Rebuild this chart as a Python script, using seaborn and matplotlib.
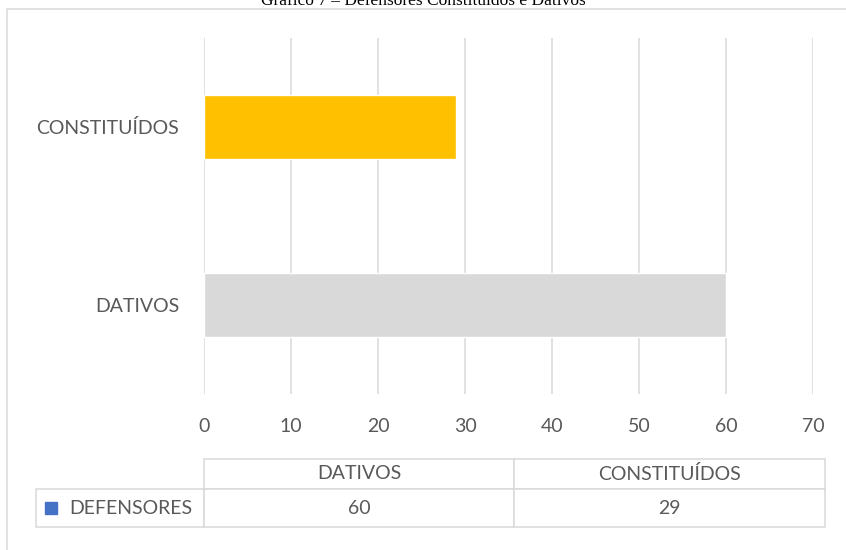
import matplotlib
matplotlib.use("Agg")
import matplotlib.pyplot as plt
import matplotlib.patches as mpatches
import seaborn as sns
import pandas as pd

# ── Datos ─────────────────────────────────────────────────────────────────────
categorias = ["DATIVOS", "CONSTITUÍDOS"]
valores = [60, 29]
serie = "DEFENSORES"
colores = {"DATIVOS": "#D9D9D9", "CONSTITUÍDOS": "#FFC000"}
ticks_x = [0, 10, 20, 30, 40, 50, 60, 70]
titulo = "Gráfico 7 – Defensores Constituídos e Dativos"

df = pd.DataFrame({"categoria": categorias, "valor": valores})

# ── Estilo ────────────────────────────────────────────────────────────────────
sns.set_theme(style="white")
plt.rcParams["font.family"] = ["Lato", "DejaVu Sans"]
texto = "#595959"
gris = "#D9D9D9"

W, H = 846, 550
fig = plt.figure(figsize=(W / 100, H / 100), dpi=100)

# ── Barras ────────────────────────────────────────────────────────────────────
ax = fig.add_axes([204 / W, 1 - 394 / H, (813 - 204) / W, (394 - 38) / H])
sns.barplot(data=df, x="valor", y="categoria", hue="categoria",
            order=categorias[::-1], palette=colores, legend=False,
            width=0.357, saturation=1, orient="h", ax=ax)
ax.set_xlim(0, 70)
ax.set_xticks(ticks_x)
ax.xaxis.grid(True, color=gris, linewidth=1.1)
ax.set_axisbelow(True)
for s in ax.spines.values():
    s.set_visible(False)
ax.set_xlabel("")
ax.set_ylabel("")
ax.tick_params(axis="x", length=0, pad=17, labelsize=14, labelcolor=texto)
ax.tick_params(axis="y", length=0, pad=18, labelsize=14, labelcolor=texto)

# ── Tabla de datos ────────────────────────────────────────────────────────────
tax = fig.add_axes([36 / W, 1 - 527 / H, (825 - 36) / W, (527 - 459) / H])
tax.axis("off")
tabla = tax.table(cellText=[[""] + categorias, [serie] + [str(v) for v in valores]],
                  cellLoc="center", colWidths=[168, 310, 311], bbox=[0, 0, 1, 1])
tabla.auto_set_font_size(False)
for (r, c), cell in tabla.get_celld().items():
    cell.set_edgecolor(gris)
    cell.set_linewidth(1.1)
    cell.set_height(30 if r == 0 else 38)
    cell.get_text().set_fontsize(14)
    cell.get_text().set_color(texto)
    if r == 0 and c == 0:
        cell.visible_edges = ""
tabla[1, 0].get_text().set_ha("left")
tabla[1, 0].PAD = 0.2
tax.add_patch(mpatches.Rectangle((9 / 789, 13 / 68), 12 / 789, 12 / 68,
                                 transform=tax.transAxes, color="#4472C4",
                                 clip_on=False))

# ── Borde y título ────────────────────────────────────────────────────────────
fig.patches.append(mpatches.Rectangle((7 / W, -0.1), 1.2, 1.1 - 9 / H,
                                      transform=fig.transFigure, fill=False,
                                      edgecolor=gris, linewidth=1.1))
# el título aparece recortado en el borde superior, igual que en la referencia
fig.text(0.5, 1 - 5 / H, titulo, ha="center", va="baseline", fontsize=12.5,
         family="Liberation Serif", color="black")

fig.savefig("out.png", dpi=100)
